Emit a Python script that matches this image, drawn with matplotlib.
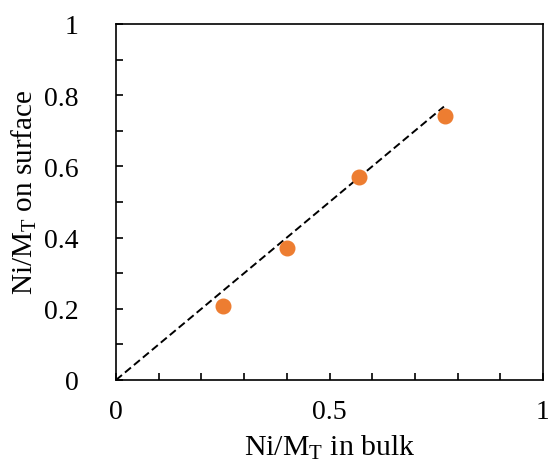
import matplotlib
matplotlib.use('Agg')
import matplotlib.pyplot as plt
from matplotlib.ticker import MultipleLocator

plt.rcParams['font.family'] = 'Liberation Serif'
plt.rcParams['mathtext.fontset'] = 'custom'
plt.rcParams['mathtext.rm'] = 'Liberation Serif'

# measured points
bulk = [0.25, 0.40, 0.57, 0.77]
surface = [0.207, 0.371, 0.570, 0.742]
# dashed guide line (y = x)
line_x = [0.0, 0.768]
line_y = [0.0, 0.768]

fig = plt.figure(figsize=(5.48, 4.77), dpi=100)
ax = fig.add_axes([116/548, 1 - 381/477, 427/548, 356/477])

ax.plot(line_x, line_y, color='black', linestyle=(0, (4, 2)), linewidth=1.4)
ax.plot(bulk, surface, 'o', color='#ED7D31', markersize=10.5, zorder=3)

ax.set_xlim(0, 1)
ax.set_ylim(0, 1)
ax.xaxis.set_major_locator(MultipleLocator(0.5))
ax.xaxis.set_minor_locator(MultipleLocator(0.1))
ax.yaxis.set_major_locator(MultipleLocator(0.2))
ax.yaxis.set_minor_locator(MultipleLocator(0.1))
ax.xaxis.set_major_formatter(plt.FuncFormatter(lambda v, p: '%g' % v))
ax.yaxis.set_major_formatter(plt.FuncFormatter(lambda v, p: '%g' % v))
ax.tick_params(which='both', direction='in', length=5, width=1.2, labelsize=20)
ax.tick_params(axis='x', which='major', pad=14)
ax.tick_params(axis='y', which='major', pad=27)
for s in ax.spines.values():
    s.set_linewidth(1.2)

ax.set_xlabel(r'Ni/$\mathregular{M_T}$ in bulk', fontsize=21.5, labelpad=6)
ax.set_ylabel(r'Ni/$\mathregular{M_T}$ on surface', fontsize=21)
ax.yaxis.set_label_coords(-0.18, 0.53)

fig.savefig('out.png', dpi=100)
